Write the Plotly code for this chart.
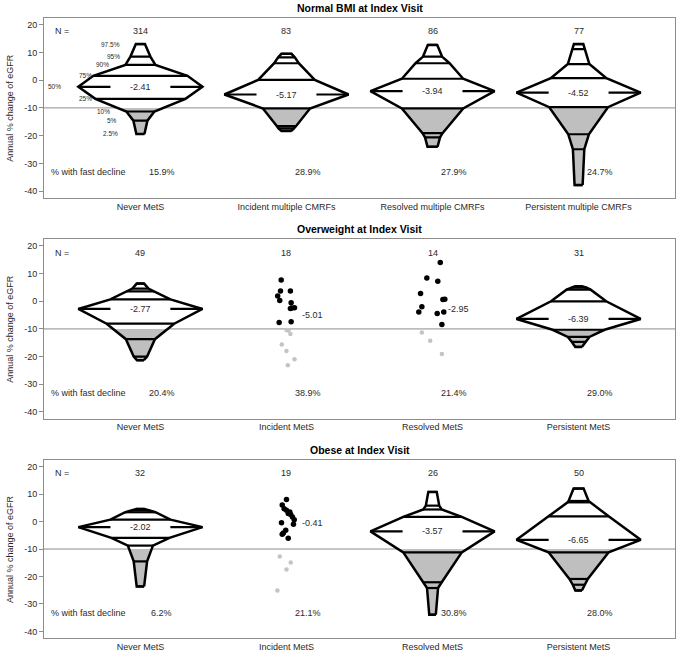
import numpy as np
import plotly.graph_objects as go

# ---------------- data ----------------
pct_labels = ["2.5%", "5%", "10%", "25%", "50%", "75%", "90%", "95%", "97.5%"]

titles = ["Normal BMI at Index Visit", "Overweight at Index Visit", "Obese at Index Visit"]
cats_normal = ["Never MetS", "Incident multiple CMRFs", "Resolved multiple CMRFs", "Persistent multiple CMRFs"]
cats_mets = ["Never MetS", "Incident MetS", "Resolved MetS", "Persistent MetS"]

n_normal = [314, 83, 86, 77]
n_overweight = [49, 18, 14, 31]
n_obese = [32, 19, 26, 50]

fast_normal = [15.9, 28.9, 27.9, 24.7]
fast_overweight = [20.4, 38.9, 21.4, 29.0]
fast_obese = [6.2, 21.1, 30.8, 28.0]

median_normal = [-2.41, -5.17, -3.94, -4.52]
median_overweight = [-2.77, -5.01, -2.95, -6.39]
median_obese = [-2.02, -0.41, -3.57, -6.65]

# percentiles 2.5, 5, 10, 25, 50, 75, 90, 95, 97.5
q_normal_never = [-19.4, -14.6, -11.3, -6.75, -2.41, 1.55, 5.5, 8.5, 13.0]
q_normal_incident = [-18.3, -17.4, -16.6, -10.2, -5.17, 0.1, 6.1, 8.2, 9.5]
q_normal_resolved = [-24.0, -20.6, -19.1, -10.2, -3.94, 0.5, 6.1, 8.5, 12.7]
q_normal_persistent = [-37.8, -24.9, -19.5, -9.75, -4.52, 0.7, 5.8, 11.2, 13.0]
q_overweight_never = [-21.3, -20.0, -13.7, -8.1, -2.77, 0.7, 3.6, 4.6, 6.4]
q_overweight_persistent = [-16.5, -14.7, -12.9, -10.3, -6.39, 0.0, 4.2, 4.9, 5.4]
q_obese_never = [-23.6, -14.5, -8.75, -5.95, -2.02, 0.7, 3.4, 4.1, 4.6]
q_obese_resolved = [-33.9, -24.2, -22.1, -11.2, -3.57, 1.7, 4.4, 5.8, 10.8]
q_obese_persistent = [-25.1, -23.0, -20.9, -11.2, -6.65, 1.9, 7.0, 7.5, 12.0]

# relative density at each percentile (1 = median)
d_normal_never = [0.065, 0.113, 0.226, 0.726, 1, 0.758, 0.242, 0.161, 0.073]
d_normal_incident = [0.081, 0.129, 0.153, 0.379, 1, 0.456, 0.198, 0.134, 0.081]
d_normal_resolved = [0.081, 0.121, 0.161, 0.494, 1, 0.494, 0.274, 0.153, 0.076]
d_normal_persistent = [0.065, 0.092, 0.166, 0.473, 1, 0.448, 0.173, 0.100, 0.076]
d_overweight_never = [0.056, 0.108, 0.234, 0.544, 1, 0.484, 0.218, 0.129, 0.060]
d_overweight_persistent = [0.053, 0.108, 0.174, 0.419, 1, 0.444, 0.194, 0.129, 0.056]
d_obese_never = [0.060, 0.108, 0.202, 0.468, 1, 0.484, 0.242, 0.145, 0.065]
d_obese_resolved = [0.053, 0.089, 0.148, 0.471, 1, 0.471, 0.148, 0.108, 0.068]
d_obese_persistent = [0.053, 0.094, 0.148, 0.484, 1, 0.484, 0.177, 0.161, 0.081]

# individual values for small groups
v_overweight_incident = [7.7, 3.7, 3.7, 1.9, 0.25, -0.5, -2.4, -2.3, -2.6, -7.7, -7.42,
                         -10.6, -11.8, -10.4, -15.6, -18.0, -21.0, -23.1]
v_overweight_resolved = [14.0, 8.4, 7.2, 2.8, 0.6, 0.7, -2.0, -3.9, -4.4, -3.9, -8.4,
                         -11.3, -14.3, -19.1]
v_obese_incident = [8.0, 6.0, 4.7, 4.1, 3.5, 2.9, 2.6, 1.7, 0.7, -0.41, -1.0, -3.2, -4.2,
                    -4.6, -6.1, -12.7, -14.9, -17.5, -25.1]

# ---------------- layout constants ----------------
jit_overweight_incident = [-0.036, -0.041, 0.027, -0.060, -0.046, 0.032, 0.036, 0.055, 0.027,
                           -0.050, 0.032, 0.014, 0.027, 0.0, -0.032, 0.0, 0.055, 0.009]
jit_overweight_resolved = [0.053, -0.039, 0.036, -0.082, 0.071, 0.084, -0.073, -0.094, 0.032,
                           0.077, 0.064, -0.073, -0.016, 0.064]
jit_obese_incident = [0.0, -0.029, -0.016, 0.0, 0.023, 0.012, 0.029, 0.041, 0.053, -0.034,
                      0.048, -0.005, -0.021, -0.029, 0.012, -0.046, 0.029, 0.0, -0.062]
pct_label_dx = [-0.205, -0.194, -0.25, -0.377, -0.59, -0.377, -0.26, -0.187, -0.205]

W = 0.425      # half width at the median (x units)
GAP = 0.205    # half gap in median line around label
THR = -10      # fast decline threshold
XR = [0.34, 4.66]
YR = [-42.4, 22.4]
DOMAINS = [[0.710, 1.0], [0.354, 0.643], [0.0, 0.287]]
FONT = "Liberation Sans, Arial, sans-serif"
TXT = "#2a2a2a"
AX = "#8c8c8c"
GRAYFILL = "#bfbfbf"

panels = [
    dict(title=titles[0], cats=cats_normal, n=n_normal, fast=fast_normal, med=median_normal,
         groups=[("shape", q_normal_never, d_normal_never),
                 ("shape", q_normal_incident, d_normal_incident),
                 ("shape", q_normal_resolved, d_normal_resolved),
                 ("shape", q_normal_persistent, d_normal_persistent)]),
    dict(title=titles[1], cats=cats_mets, n=n_overweight, fast=fast_overweight, med=median_overweight,
         groups=[("shape", q_overweight_never, d_overweight_never),
                 ("dots", v_overweight_incident, jit_overweight_incident),
                 ("dots", v_overweight_resolved, jit_overweight_resolved),
                 ("shape", q_overweight_persistent, d_overweight_persistent)]),
    dict(title=titles[2], cats=cats_mets, n=n_obese, fast=fast_obese, med=median_obese,
         groups=[("shape", q_obese_never, d_obese_never),
                 ("dots", v_obese_incident, jit_obese_incident),
                 ("shape", q_obese_resolved, d_obese_resolved),
                 ("shape", q_obese_persistent, d_obese_persistent)]),
]

fig = go.Figure()
annotations = []

for pi, p in enumerate(panels):
    sfx = "" if pi == 0 else str(pi + 1)
    xa, ya = "x" + sfx, "y" + sfx

    # threshold line
    fig.add_trace(go.Scatter(x=XR, y=[THR, THR], mode="lines", xaxis=xa, yaxis=ya,
                             line=dict(color=AX, width=1), hoverinfo="skip"))

    for gi, g in enumerate(p["groups"]):
        cx = gi + 1
        med = p["med"][gi]
        if g[0] == "shape":
            q = np.array(g[1], dtype=float)
            d = np.array(g[2], dtype=float)
            hw = d * W
            px = list(cx + hw) + list(cx - hw)[::-1] + [cx + hw[0]]
            py = list(q) + list(q)[::-1] + [q[0]]
            # white body
            fig.add_trace(go.Scatter(x=px, y=py, mode="lines", fill="toself", fillcolor="white",
                                     line=dict(width=0, color="white"), xaxis=xa, yaxis=ya,
                                     hoverinfo="skip"))
            # gray part below threshold
            mask = q < THR
            ys = list(q[mask]) + [THR]
            ws = list(hw[mask]) + [float(np.interp(THR, q, hw))]
            gx = [cx + w for w in ws] + [cx - w for w in ws][::-1]
            gy = ys + ys[::-1]
            fig.add_trace(go.Scatter(x=gx + [gx[0]], y=gy + [gy[0]], mode="lines", fill="toself",
                                     fillcolor=GRAYFILL, line=dict(width=0, color=GRAYFILL),
                                     xaxis=xa, yaxis=ya, hoverinfo="skip"))
            # percentile lines
            lx, ly = [], []
            for k in range(len(q)):
                if k == 4:
                    continue
                lx += [cx - hw[k], cx + hw[k], None]
                ly += [q[k], q[k], None]
            # median segments
            lx += [cx - W, cx - GAP, None, cx + GAP, cx + W, None]
            ly += [med, med, None, med, med, None]
            fig.add_trace(go.Scatter(x=lx, y=ly, mode="lines", line=dict(color="black", width=2.2),
                                     xaxis=xa, yaxis=ya, hoverinfo="skip"))
            # outline
            fig.add_trace(go.Scatter(x=px, y=py, mode="lines", line=dict(color="black", width=2.5),
                                     xaxis=xa, yaxis=ya, hoverinfo="skip"))
            annotations.append(dict(x=cx, y=med, xref=xa, yref=ya, text=f"{med:.2f}",
                                    showarrow=False, font=dict(size=9, color=TXT, family=FONT)))
            if pi == 0 and gi == 0:
                for k, lab in enumerate(pct_labels):
                    annotations.append(dict(x=cx + pct_label_dx[k], y=q[k], xref=xa, yref=ya,
                                            text=lab, showarrow=False,
                                            font=dict(size=6.5, color=TXT, family=FONT)))
        else:
            v = np.array(g[1], dtype=float)
            j = np.array(g[2], dtype=float)
            hi = v >= THR
            fig.add_trace(go.Scatter(x=cx + j[hi], y=v[hi], mode="markers", xaxis=xa, yaxis=ya,
                                     marker=dict(color="black", size=5.5, line=dict(width=0)),
                                     hoverinfo="skip"))
            fig.add_trace(go.Scatter(x=cx + j[~hi], y=v[~hi], mode="markers", xaxis=xa, yaxis=ya,
                                     marker=dict(color="#c4c4c4", size=4.5, line=dict(width=0)),
                                     hoverinfo="skip"))
            annotations.append(dict(x=cx + 0.18, y=med, xref=xa, yref=ya, text=f"{med:.2f}",
                                    showarrow=False, font=dict(size=9, color=TXT, family=FONT)))

        # N and percent labels
        annotations.append(dict(x=cx, y=17.6, xref=xa, yref=ya, text=str(p["n"][gi]),
                                showarrow=False, font=dict(size=9, color=TXT, family=FONT)))
        annotations.append(dict(x=cx + 0.145, y=-33.2, xref=xa, yref=ya,
                                text=f"{p['fast'][gi]:.1f}%", showarrow=False,
                                font=dict(size=9, color=TXT, family=FONT)))

    annotations.append(dict(x=0.40, y=17.6, xref=xa, yref=ya, text="N =", xanchor="left",
                            showarrow=False, font=dict(size=9, color=TXT, family=FONT)))
    annotations.append(dict(x=0.375, y=-33.2, xref=xa, yref=ya, text="% with fast decline",
                            xanchor="left", showarrow=False,
                            font=dict(size=9, color=TXT, family=FONT)))
    # title
    annotations.append(dict(x=0.5, y=1, xref="paper", yref=ya + " domain", yshift=10,
                            xanchor="center", yanchor="middle",
                            text="<b>" + p["title"] + "</b>", showarrow=False,
                            font=dict(size=10.5, color="black", family=FONT)))
    # y axis title
    annotations.append(dict(x=-0.054, y=0.5, xref="paper", yref=ya + " domain",
                            xanchor="center", yanchor="middle",
                            text="Annual % change of eGFR", textangle=-90, showarrow=False,
                            font=dict(size=9, color=TXT, family=FONT)))

    xkey = "xaxis" + sfx
    ykey = "yaxis" + sfx
    fig.update_layout(**{
        xkey: dict(domain=[0, 1], range=XR, anchor=ya, tickvals=[1, 2, 3, 4], ticktext=p["cats"],
                   ticks="", showline=True, mirror=True, linecolor=AX, linewidth=1,
                   showgrid=False, zeroline=False, fixedrange=True,
                   tickfont=dict(size=9, color=TXT, family=FONT)),
        ykey: dict(domain=DOMAINS[pi], range=YR, anchor=xa,
                   tickvals=[-40, -30, -20, -10, 0, 10, 20],
                   ticktext=["-40", "-30", "-20", "-10", "0", "10", "20"],
                   ticks="outside", ticklen=4, tickcolor=AX, showline=True, mirror=True,
                   linecolor=AX, linewidth=1, showgrid=False, zeroline=False, fixedrange=True,
                   tickfont=dict(size=9, color=TXT, family=FONT)),
    })

fig.update_layout(width=681, height=658, margin=dict(l=44, r=6, t=18, b=20),
                  paper_bgcolor="white", plot_bgcolor="white", showlegend=False,
                  annotations=annotations, font=dict(family=FONT))

fig.write_html("out.html", config={"displayModeBar": False},
               post_script="document.body.style.margin='0';document.body.style.overflow='hidden';")
